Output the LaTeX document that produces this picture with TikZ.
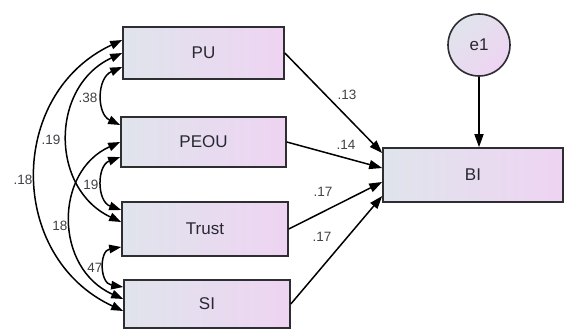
\documentclass[tikz,border=0pt]{standalone}
\usepackage{fontspec}
\setmainfont{Liberation Sans}
\usetikzlibrary{arrows.meta,calc}
\definecolor{boxleft}{RGB}{224,228,236}
\definecolor{boxright}{RGB}{238,212,242}
\definecolor{edgegray}{RGB}{45,45,50}
\definecolor{txtgray}{RGB}{40,40,50}
\definecolor{lblgray}{RGB}{65,65,70}
\begin{document}
\begin{tikzpicture}[x=1pt,y=-1pt,
  varbox/.style={draw=edgegray,line width=1.6pt,left color=boxleft,right color=boxright,
    inner sep=0pt,font=\fontsize{17}{20}\selectfont,text=txtgray},
  errcirc/.style={circle,draw=edgegray,line width=1.6pt,left color=boxleft,right color=boxright,
    shading angle=45,inner sep=0pt,minimum size=62pt,font=\fontsize{17}{20}\selectfont,text=txtgray},
  coef/.style={font=\fontsize{13.5}{15}\selectfont,text=lblgray,inner sep=0pt},
  regarrow/.style={line width=1.5pt,-{Triangle[length=13pt,width=9pt]}},
  covarrow/.style={line width=1.5pt,{Triangle[length=12pt,width=8.5pt]}-{Triangle[length=12pt,width=8.5pt]}}
]
\useasboundingbox (0,0) rectangle (567,329);

% observed variables
\node[varbox,minimum width=161pt,minimum height=52pt] (pu) at (203.5,53) {PU};
\node[varbox,minimum width=165pt,minimum height=50pt] (peou) at (203.5,142) {PEOU};
\node[varbox,minimum width=166pt,minimum height=54pt] (trust) at (205,229) {Trust};
\node[varbox,minimum width=166pt,minimum height=48pt] (si) at (207,304) {SI};
\node[varbox,minimum width=180pt,minimum height=54pt] (bi) at (473,175) {BI};
\node[errcirc] (e1) at (479,45) {e1};

% error to BI
\draw[regarrow] (e1.south) -- (e1.south |- bi.north);

% regressions
\draw[regarrow] (pu.east) -- ($(bi.west)+(0,-22)$);
\draw[regarrow] (peou.east) -- ($(bi.west)+(0,-7)$);
\draw[regarrow] (trust.east) -- ($(bi.west)+(0,7)$);
\draw[regarrow] (si.east) -- ($(bi.west)+(0,21)$);

\node[coef] (l13) at (347,95) {.13};
\node[coef] (l14) at (346,145) {.14};
\node[coef] (l17a) at (323,192) {.17};
\node[coef] (l17b) at (322,237) {.17};

% covariances
\draw[covarrow] ($(pu.west)+(0,-13)$) .. controls (7.1,93.8) and (7.1,257.2) .. ($(si.west)+(0,7)$);
\draw[covarrow] ($(pu.west)+(0,0)$) .. controls (49.9,86.3) and (49.9,188.7) .. ($(trust.west)+(0,-7)$);
\draw[covarrow] ($(pu.west)+(0,14)$) .. controls (96.6,78) and (96.6,114) .. ($(peou.west)+(0,-17)$);
\draw[covarrow] ($(peou.west)+(0,0)$) .. controls (54,171.7) and (54,268.3) .. ($(si.west)+(0,-5)$);
\draw[covarrow] ($(peou.west)+(0,15)$) .. controls (96.7,165.6) and (96.7,201.4) .. ($(trust.west)+(0,-19)$);
\draw[covarrow] ($(trust.west)+(0,18)$) .. controls (99.3,250.7) and (99.3,283.3) .. ($(si.west)+(0,-17)$);

\node[coef] (l18a) at (23,180) {.18};
\node[coef] (l19a) at (51,140) {.19};
\node[coef] (l38) at (88,98) {.38};
\node[coef] (l19b) at (91,185) {19};
\node[coef] (l18b) at (60,226) {18};
\node[coef] (l47) at (95,268) {47};
\end{tikzpicture}
\end{document}
